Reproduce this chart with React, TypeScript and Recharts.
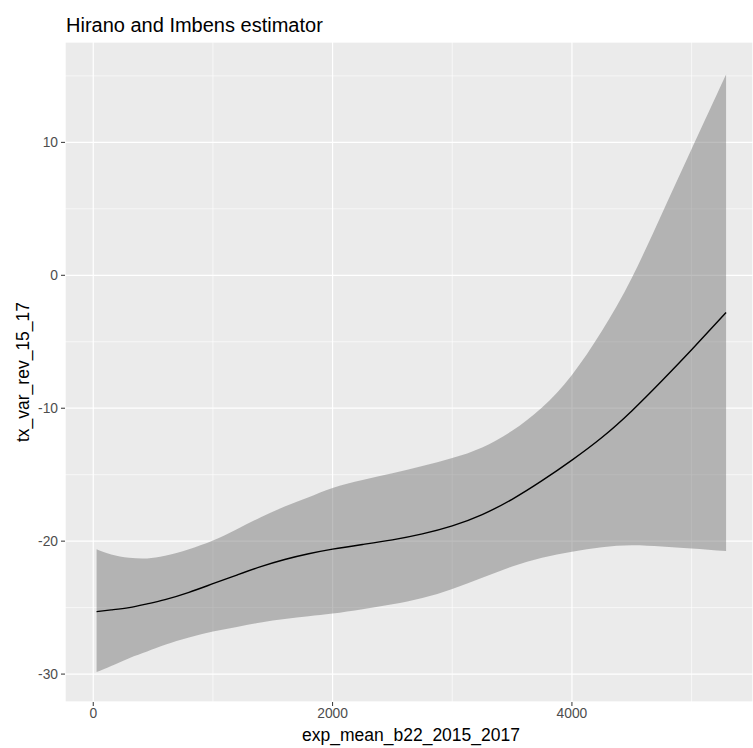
import React from 'react';
import { ComposedChart, Area, Line, XAxis, YAxis, CartesianGrid } from 'recharts';

// values
const expMean = [28, 150, 300, 450, 600, 800, 1000, 1200, 1400, 1600, 1800, 2000, 2250, 2500, 2750, 3000, 3250, 3500, 3750, 4000, 4250, 4500, 4750, 5000, 5288];
const estimate = [-25.3, -25.17, -25.0, -24.72, -24.4, -23.85, -23.2, -22.55, -21.92, -21.38, -20.95, -20.6, -20.25, -19.9, -19.45, -18.85, -18.0, -16.85, -15.45, -13.9, -12.2, -10.2, -7.95, -5.6, -2.8];
const upperCI = [-20.6, -21.0, -21.25, -21.3, -21.1, -20.6, -19.95, -19.1, -18.2, -17.4, -16.7, -16.0, -15.4, -14.9, -14.35, -13.75, -12.95, -11.7, -9.95, -7.5, -4.2, -0.2, 4.6, 9.5, 15.1];
const lowerCI = [-29.85, -29.4, -28.8, -28.3, -27.8, -27.25, -26.8, -26.45, -26.12, -25.86, -25.65, -25.45, -25.12, -24.75, -24.28, -23.6, -22.75, -21.9, -21.25, -20.8, -20.45, -20.3, -20.4, -20.55, -20.75];

const xTicks = [0, 2000, 4000];
const xMinor = [1000, 3000, 5000];
const yTicks = [-30, -20, -10, 0, 10];
const yMinor = [-25, -15, -5, 5, 15];

const xDomain = [-236, 5513];
const yDomain = [-32.1, 17.55];

const tableData = expMean.map((x, i) => ({
  x,
  est: estimate[i],
  band: [lowerCI[i], upperCI[i]],
}));

const font = '"Liberation Sans", Arial, sans-serif';

export default function App() {
  const tickStyle = { fill: '#4D4D4D', fontSize: 13.8, fontFamily: font };

  return (
    <div style={{ position: 'absolute', left: 0, top: 0, width: 753, height: 748, background: '#fff' }}>
      <ComposedChart width={753} height={748} data={tableData} margin={{ top: 42, right: 0, bottom: 0, left: 0 }}>
        <CartesianGrid fill="#EBEBEB" stroke="#FFFFFF" strokeWidth={1.2} />
        <CartesianGrid xAxisId="minor" yAxisId="minor" fill="none" stroke="#FFFFFF" strokeWidth={0.6} />
        <XAxis
          dataKey="x"
          type="number"
          domain={xDomain}
          ticks={xTicks}
          allowDataOverflow
          height={46}
          axisLine={false}
          tickSize={4}
          tickMargin={2}
          tickLine={{ stroke: '#333333', strokeWidth: 1 }}
          tick={tickStyle}
        />
        <XAxis xAxisId="minor" dataKey="x" type="number" domain={xDomain} ticks={xMinor} allowDataOverflow hide />
        <YAxis
          type="number"
          domain={yDomain}
          ticks={yTicks}
          allowDataOverflow
          width={65}
          axisLine={false}
          tickSize={4}
          tickMargin={3}
          tickLine={{ stroke: '#333333', strokeWidth: 1 }}
          tick={tickStyle}
        />
        <YAxis yAxisId="minor" type="number" domain={yDomain} ticks={yMinor} allowDataOverflow hide />
        <Area
          dataKey="band"
          type="natural"
          stroke="none"
          fill="#6F6F6F"
          fillOpacity={0.45}
          isAnimationActive={false}
          dot={false}
          activeDot={false}
        />
        <Line
          dataKey="est"
          type="natural"
          stroke="#000000"
          strokeWidth={1.4}
          dot={false}
          activeDot={false}
          isAnimationActive={false}
        />
      </ComposedChart>
      <svg width={753} height={748} style={{ position: 'absolute', left: 0, top: 0, pointerEvents: 'none' }}>
        <text x={66} y={32} fontFamily={font} fontSize={20} fill="#000">
          Hirano and Imbens estimator
        </text>
        <text x={411} y={741} textAnchor="middle" fontFamily={font} fontSize={17.5} fill="#000">
          exp_mean_b22_2015_2017
        </text>
        <text x={28.5} y={372} textAnchor="middle" fontFamily={font} fontSize={17.5} fill="#000" transform="rotate(-90 28.5 372)">
          tx_var_rev_15_17
        </text>
      </svg>
    </div>
  );
}
